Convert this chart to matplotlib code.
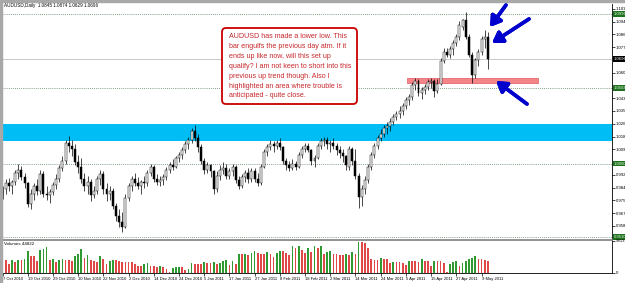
import matplotlib
matplotlib.use("Agg")
import matplotlib.pyplot as plt
import matplotlib.transforms as mtransforms
from matplotlib.patches import FancyBboxPatch, Rectangle

plt.rcParams['font.family'] = ['Liberation Sans', 'DejaVu Sans']

W, H = 625, 283

# ---------------- data ----------------
date_labels = ["7 Oct 2010", "19 Oct 2010", "29 Oct 2010", "10 Nov 2010", "22 Nov 2010",
               "2 Dec 2010", "14 Dec 2010", "24 Dec 2010", "5 Jan 2011", "17 Jan 2011",
               "27 Jan 2011", "8 Feb 2011", "18 Feb 2011", "2 Mar 2011", "14 Mar 2011",
               "24 Mar 2011", "5 Apr 2011", "15 Apr 2011", "27 Apr 2011", "9 May 2011"]
label_bars = [0, 8, 16, 24, 32, 40, 48, 56, 64, 72, 80, 88, 96, 104, 112, 120, 128, 136, 144, 152]

opens = [
 .9800, .9830, .9870, .9850, .9880, .9940, .9960, .9910, .9870, .9730,
 .9800, .9850, .9820, .9930, .9800, .9790, .9810, .9860, .9900, .9970,
 1.0020, 1.0140, 1.0120, 1.0100, 1.0010, .9980, .9900, .9850, .9880, .9790,
 .9820, .9900, .9930, .9830, .9800, .9820, .9720, .9650, .9610, .9580,
 .9770, .9850, .9900, .9870, .9850, .9880, .9870, .9940, .9980, .9900,
 .9880, .9890, .9910, .9960, .9990, .9980, 1.0040, 1.0060, 1.0090, 1.0130,
 1.0160, 1.0220, 1.0170, 1.0110, 1.0020, .9960, .9990, .9950, .9830, .9920,
 .9960, .9970, .9920, .9950, .9980, .9890, .9850, .9910, .9940, .9900,
 .9950, .9900, .9870, .9980, 1.0080, 1.0110, 1.0130, 1.0120, 1.0140, 1.0110,
 1.0020, .9990, .9970, 1.0000, .9980, 1.0060, 1.0100, 1.0120, 1.0090, 1.0020,
 1.0040, 1.0120, 1.0150, 1.0160, 1.0130, 1.0140, 1.0120, 1.0090, 1.0070, 1.0050,
 .9980, 1.0100, 1.0020, .9920, .9780, .9830, .9890, .9980, 1.0060, 1.0120,
 1.0170, 1.0200, 1.0240, 1.0250, 1.0280, 1.0310, 1.0330, 1.0350, 1.0380, 1.0420,
 1.0440, 1.0520, 1.0550, 1.0470, 1.0490, 1.0510, 1.0540, 1.0550, 1.0480, 1.0530,
 1.0680, 1.0740, 1.0720, 1.0760, 1.0800, 1.0840, 1.0910, 1.0955, 1.0845, 1.0723,
 1.0590, 1.0690, 1.0740, 1.0830, 1.0845]
highs = [
 .9850, .9895, .9905, .9890, .9960, .9995, .9985, .9935, .9880, .9830,
 .9870, .9900, .9960, .9950, .9850, .9830, .9880, .9930, .9990, 1.0050,
 1.0160, 1.0183, 1.0160, 1.0130, 1.0060, 1.0040, .9940, .9920, .9900, .9850,
 .9920, .9960, .9950, .9870, .9850, .9840, .9740, .9700, .9680, .9800,
 .9870, .9920, .9940, .9910, .9890, .9920, .9960, 1.0000, .9990, .9930,
 .9920, .9930, .9980, 1.0010, 1.0030, 1.0050, 1.0080, 1.0110, 1.0150, 1.0180,
 1.0240, 1.0256, 1.0200, 1.0130, 1.0040, 1.0010, 1.0000, .9960, .9950, .9990,
 1.0010, 1.0000, .9970, 1.0000, .9990, .9920, .9930, .9960, .9970, .9970,
 .9970, .9940, 1.0000, 1.0100, 1.0130, 1.0160, 1.0150, 1.0160, 1.0170, 1.0120,
 1.0040, 1.0020, 1.0030, 1.0020, 1.0080, 1.0120, 1.0140, 1.0140, 1.0100, 1.0060,
 1.0140, 1.0170, 1.0180, 1.0180, 1.0160, 1.0170, 1.0140, 1.0120, 1.0100, 1.0060,
 1.0120, 1.0110, 1.0100, .9940, .9860, .9920, 1.0000, 1.0080, 1.0140, 1.0190,
 1.0230, 1.0260, 1.0280, 1.0300, 1.0330, 1.0350, 1.0380, 1.0400, 1.0440, 1.0460,
 1.0540, 1.0570, 1.0560, 1.0510, 1.0530, 1.0560, 1.0570, 1.0560, 1.0560, 1.0700,
 1.0770, 1.0770, 1.0780, 1.0820, 1.0860, 1.0950, 1.0965, 1.1012, 1.0860, 1.0740,
 1.0700, 1.0760, 1.0850, 1.0890, 1.0874]
lows = [
 .9765, .9800, .9820, .9800, .9860, .9900, .9890, .9840, .9710, .9700,
 .9760, .9790, .9800, .9780, .9760, .9740, .9790, .9830, .9880, .9950,
 1.0000, 1.0080, 1.0050, .9990, .9940, .9870, .9820, .9800, .9750, .9770,
 .9800, .9860, .9800, .9750, .9760, .9700, .9620, .9580, .9545, .9570,
 .9750, .9820, .9850, .9830, .9800, .9840, .9850, .9920, .9880, .9860,
 .9850, .9860, .9890, .9940, .9960, .9970, 1.0010, 1.0030, 1.0070, 1.0100,
 1.0140, 1.0150, 1.0080, 1.0000, .9930, .9940, .9910, .9800, .9810, .9890,
 .9930, .9900, .9900, .9920, .9870, .9830, .9840, .9880, .9870, .9880,
 .9880, .9850, .9860, .9970, 1.0050, 1.0090, 1.0080, 1.0100, 1.0090, 1.0000,
 .9960, .9950, .9960, .9960, .9970, 1.0040, 1.0080, 1.0080, .9990, .9980,
 1.0030, 1.0100, 1.0120, 1.0100, 1.0080, 1.0100, 1.0060, 1.0040, 1.0010, .9960,
 .9960, .9990, .9900, .9706, .9720, .9800, .9870, .9960, 1.0040, 1.0100,
 1.0150, 1.0180, 1.0200, 1.0220, 1.0260, 1.0290, 1.0300, 1.0320, 1.0360, 1.0390,
 1.0420, 1.0490, 1.0450, 1.0430, 1.0460, 1.0490, 1.0500, 1.0440, 1.0470, 1.0520,
 1.0670, 1.0710, 1.0700, 1.0720, 1.0780, 1.0820, 1.0890, 1.0830, 1.0710, 1.0534,
 1.0570, 1.0650, 1.0720, 1.0768, 1.0629]
closes = [
 .9830, .9870, .9850, .9880, .9940, .9960, .9910, .9870, .9730, .9800,
 .9850, .9820, .9930, .9800, .9790, .9810, .9860, .9900, .9970, 1.0020,
 1.0140, 1.0120, 1.0100, 1.0010, .9980, .9900, .9850, .9880, .9790, .9820,
 .9900, .9930, .9830, .9800, .9820, .9720, .9650, .9610, .9580, .9770,
 .9850, .9900, .9870, .9850, .9880, .9870, .9940, .9980, .9900, .9880,
 .9890, .9910, .9960, .9990, .9980, 1.0040, 1.0060, 1.0090, 1.0130, 1.0160,
 1.0220, 1.0170, 1.0110, 1.0020, .9960, .9990, .9950, .9830, .9920, .9960,
 .9970, .9920, .9950, .9980, .9890, .9850, .9910, .9940, .9900, .9950,
 .9900, .9870, .9980, 1.0080, 1.0110, 1.0130, 1.0120, 1.0140, 1.0110, 1.0020,
 .9990, .9970, 1.0000, .9980, 1.0060, 1.0100, 1.0120, 1.0090, 1.0020, 1.0040,
 1.0120, 1.0150, 1.0160, 1.0130, 1.0140, 1.0120, 1.0090, 1.0070, 1.0050, .9990,
 1.0100, 1.0020, .9920, .9780, .9830, .9890, .9980, 1.0060, 1.0120, 1.0170,
 1.0200, 1.0240, 1.0250, 1.0280, 1.0310, 1.0330, 1.0350, 1.0380, 1.0420, 1.0440,
 1.0520, 1.0550, 1.0470, 1.0490, 1.0510, 1.0540, 1.0550, 1.0480, 1.0530, 1.0680,
 1.0740, 1.0720, 1.0760, 1.0800, 1.0840, 1.0920, 1.0955, 1.0845, 1.0723, 1.0590,
 1.0690, 1.0740, 1.0830, 1.0845, 1.0696]
volumes = [
 40, 40, 27, 40, 33, 40, 40, 43, 68, 51,
 51, 36, 70, 72, 80, 40, 43, 33, 40, 43,
 40, 40, 36, 51, 57, 72, 46, 54, 40, 36,
 33, 51, 43, 27, 36, 40, 40, 38, 33, 33,
 33, 33, 27, 22, 22, 27, 30, 22, 22, 19,
 22, 17, 12, 2, 15, 17, 19, 17, 8, 12,
 30, 27, 27, 27, 33, 30, 30, 33, 27, 30,
 36, 40, 25, 38, 27, 57, 57, 59, 54, 61,
 68, 61, 59, 57, 64, 59, 49, 61, 68, 68,
 61, 54, 82, 78, 82, 70, 60, 75, 65, 82,
 75, 82, 57, 64, 67, 57, 57, 54, 54, 59,
 54, 64, 57, 96, 96, 93, 75, 43, 40, 40,
 46, 43, 43, 30, 33, 33, 33, 30, 25, 36,
 36, 36, 33, 43, 36, 36, 22, 36, 36, 36,
 30, 2, 27, 33, 36, 22, 32, 38, 43, 46,
 51, 43, 43, 40, 38]
volumes = [v * 1000 for v in volumes]

price_ticks = [0.9585, 0.9670, 0.9755, 0.9840, 0.9925, 1.0095, 1.0180, 1.0265,
               1.0350, 1.0435, 1.0605, 1.0775, 1.0860, 1.0945, 1.1030]
hline_levels = [1.0996, 1.0503, 1.0000, 0.9510]
bid_level = 1.0696
vol_max_label = 98131
vol_label_value = 44822

title = "AUDUSD,Daily  1.0845 1.0874 1.0629 1.0696"
note = ("AUDUSD has made a lower low. This\n"
        "bar engulfs the previous day atm. If it\n"
        "ends up like now, will this set up\n"
        "qualify? I am not keen to short into this\n"
        "previous up trend though. Also I\n"
        "highlighted an area where trouble is\n"
        "anticipated - quite close.")

# ---------------- figure ----------------
fig = plt.figure(figsize=(W / 100, H / 100), dpi=100)
fig.patch.set_facecolor('white')
ident = mtransforms.IdentityTransform()

def px(x, y):
    return (x, H - y)

ax = fig.add_axes([2 / W, 1 - 239 / H, 610 / W, 235 / H])
axv = fig.add_axes([2 / W, 1 - 273 / H, 610 / W, 33 / H], sharex=ax)

n = len(closes)
xs = list(range(n))
ax.set_xlim(-0.16, 193.4)
ax.set_ylim(0.9497, 1.1063)

# highlighted zones
ax.axhspan(1.0150, 1.0263, color='#00bdf6', zorder=0, lw=0)
ax.add_patch(Rectangle((128.4, 1.0536), 41.6, 0.0034, facecolor='#f4868a',
                       edgecolor='#e05a60', lw=0.5, zorder=1))

# horizontal lines
for lv in hline_levels:
    ax.axhline(lv, color='#5f7f5f', lw=0.6, ls=(0, (1, 1.5)), zorder=1)
ax.axhline(bid_level, color='#c8c8c8', lw=0.7, zorder=1)

# candles
ax.vlines(xs, lows, highs, color='black', lw=0.5, zorder=2)
bottoms = [min(o, c) for o, c in zip(opens, closes)]
heights = [max(abs(c - o), 0.00012) for o, c in zip(opens, closes)]
faces = ['white' if c >= o else 'black' for o, c in zip(opens, closes)]
ax.bar(xs, heights, bottom=bottoms, width=0.62, color=faces, edgecolor='black',
       lw=0.35, zorder=3)

# right price axis
ax.yaxis.tick_right()
ax.set_yticks(price_ticks)
ax.set_yticklabels([f"{t:.4f}" for t in price_ticks])
ax.tick_params(axis='y', labelsize=3.1, length=2, width=0.5, pad=0.8, colors='black')
ax.tick_params(axis='x', bottom=False, labelbottom=False)
for s in ['left', 'top']:
    ax.spines[s].set_visible(False)
ax.spines['right'].set_linewidth(0.6)
ax.spines['bottom'].set_color('#808080')
ax.spines['bottom'].set_linewidth(0.6)

blend = mtransforms.blended_transform_factory(ax.transAxes, ax.transData)
for lv in [1.0996, 1.0503, 1.0000, 0.9510]:
    ax.text(1.003, lv, f"{lv:.4f}", transform=blend, fontsize=3.1, color='#dfffdf',
            va='center', ha='left', clip_on=False,
            bbox=dict(boxstyle='square,pad=0.15', fc='#1f6f1f', ec='none'))
ax.text(1.003, bid_level, f"{bid_level:.4f}", transform=blend, fontsize=3.1, color='white',
        va='center', ha='left', clip_on=False,
        bbox=dict(boxstyle='square,pad=0.15', fc='black', ec='none'))

# volume panel
vcolors = ['#2f9a2f'] + ['#2f9a2f' if volumes[i] > volumes[i - 1] else '#e04848'
                         for i in range(1, n)]
axv.bar(xs, volumes, width=0.55, color=vcolors, lw=0)
axv.set_ylim(0, 101000)
axv.yaxis.tick_right()
axv.set_yticks([0, vol_max_label])
axv.set_yticklabels(['0', str(vol_max_label)])
axv.tick_params(axis='y', labelsize=3.1, length=2, width=0.5, pad=0.8)
axv.set_xticks(label_bars)
axv.set_xticklabels(date_labels, ha='left')
axv.tick_params(axis='x', labelsize=3.0, length=2, width=0.5, pad=1)
axv.spines['left'].set_visible(False)
axv.spines['top'].set_color('#808080')
axv.spines['top'].set_linewidth(0.6)
axv.spines['right'].set_linewidth(0.6)
axv.spines['bottom'].set_linewidth(0.6)
axv.text(0.003, 0.93, f"Volumes {vol_label_value}", transform=axv.transAxes,
         fontsize=3.2, va='top', ha='left')

# title
fig.text(4, H - 6, title, transform=ident, fontsize=3.3, va='center', ha='left')

# window frame
fig.add_artist(Rectangle((0, H - 2), W, 2, transform=ident, color='#a8a8a8', zorder=10))
fig.add_artist(Rectangle((0, 0), 2, H, transform=ident, color='#a8a8a8', zorder=10))

# annotation box
box = FancyBboxPatch(px(222, 104), 135, 76, boxstyle='round,pad=0,rounding_size=4',
                     transform=ident, facecolor='white', edgecolor='#c80000', lw=1.3,
                     zorder=20)
fig.add_artist(box)
fig.text(229, H - 33, note, transform=ident, fontsize=5.1, color='#c8282d', va='top',
         ha='left', linespacing=1.58, zorder=21)

# arrows
arrow_kw = dict(arrowstyle='-|>,head_length=0.6,head_width=0.38', color='#0000cc',
                lw=2.6, shrinkA=0, shrinkB=0)
for tail, head in [((506, 5), (490, 27)), ((529, 19), (492, 43)), ((527, 104), (496, 81))]:
    fig.add_artist(plt.annotate('', xy=px(*head), xytext=px(*tail),
                                xycoords='figure pixels', textcoords='figure pixels',
                                arrowprops=arrow_kw, annotation_clip=False))

fig.savefig('out.png', dpi=100)
